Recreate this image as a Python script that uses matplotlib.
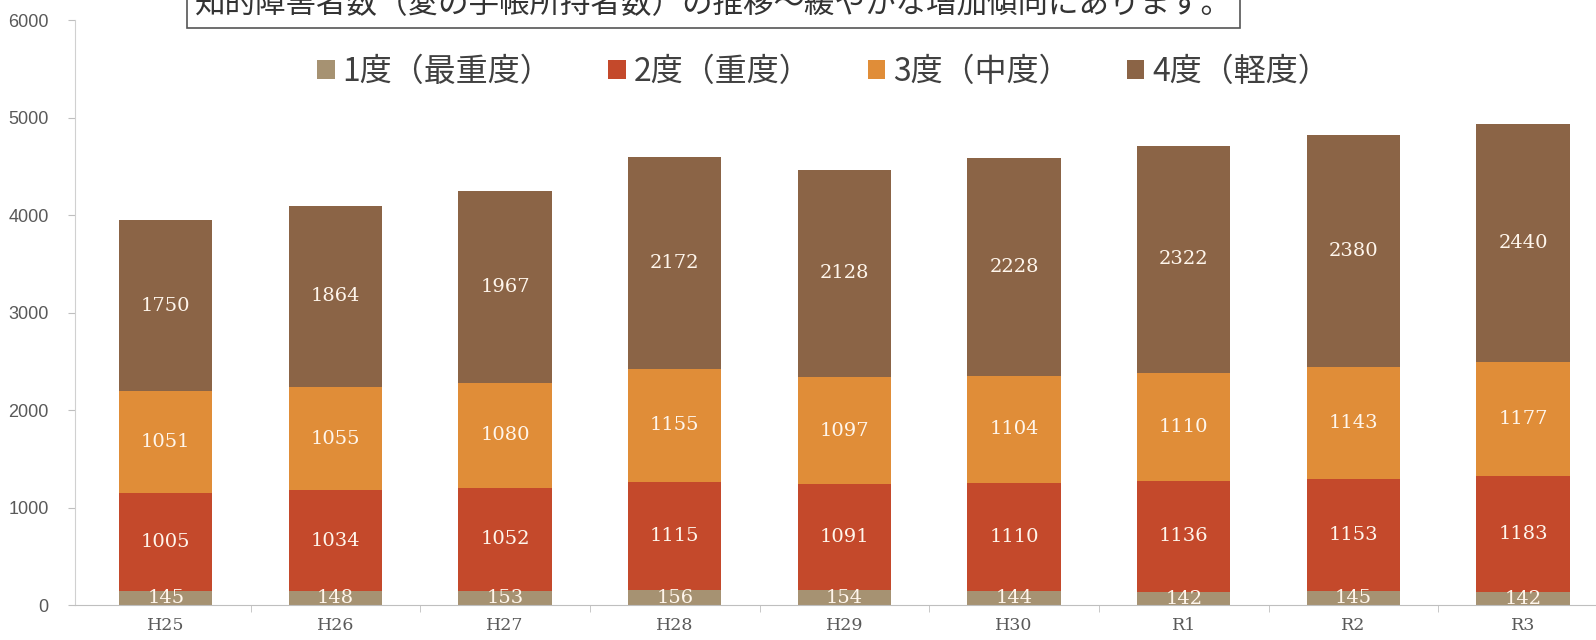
import matplotlib
matplotlib.use("Agg")
import matplotlib.pyplot as plt
from matplotlib.patches import Patch
import numpy as np

plt.rcParams['font.family'] = ['Noto Sans CJK JP', 'DejaVu Sans']

# data
years = ['H25', 'H26', 'H27', 'H28', 'H29', 'H30', 'R1', 'R2', 'R3']
grade1 = [145, 148, 153, 156, 154, 144, 142, 145, 142]
grade2 = [1005, 1034, 1052, 1115, 1091, 1110, 1136, 1153, 1183]
grade3 = [1051, 1055, 1080, 1155, 1097, 1104, 1110, 1143, 1177]
grade4 = [1750, 1864, 1967, 2172, 2128, 2228, 2322, 2380, 2440]
series_names = ['1度（最重度）', '2度（重度）', '3度（中度）', '4度（軽度）']
colors = ['#A69272', '#C4492B', '#E08D38', '#8B6446']
title = '知的障害者数（愛の手帳所持者数）の推移〜緩やかな増加傾向にあります。'

fig = plt.figure(figsize=(15.96, 6.4), dpi=100)
ax = fig.add_axes([0.047, 0.054, 0.953, 0.914])

x = np.arange(len(years))
bottom = np.zeros(len(years))
for vals, col in zip([grade1, grade2, grade3, grade4], colors):
    vals = np.array(vals)
    ax.bar(x, vals, 0.55, bottom=bottom, color=col, zorder=2)
    for xi, b, v in zip(x, bottom, vals):
        ax.text(xi, b + v / 2, str(v), ha='center', va='center',
                family='DejaVu Serif', fontsize=14, color='#FFF6EC', zorder=3)
    bottom += vals

ax.set_ylim(0, 6000)
ax.set_xlim(-0.535, 8.43)
ax.set_yticks(range(0, 6001, 1000))
ax.set_yticklabels([str(v) for v in range(0, 6001, 1000)],
                   family='Liberation Sans', fontsize=13, color='#595959')
ax.set_xticks(x)
ax.set_xticklabels(years, family='DejaVu Serif', fontsize=12.5, color='#595959')
ax.set_xticks(np.arange(len(years) - 1) + 0.5, minor=True)
ax.tick_params(axis='x', which='major', length=0, pad=8)
ax.tick_params(axis='x', which='minor', length=5, color='#BFBFBF', direction='out')
ax.tick_params(axis='y', length=5, color='#BFBFBF', pad=14)

for s in ['top', 'right']:
    ax.spines[s].set_visible(False)
ax.spines['left'].set_color('#D0D0D0')
ax.spines['bottom'].set_color('#BFBFBF')

handles = [Patch(facecolor=c) for c in colors]
fig.legend(handles, series_names, loc='center', bbox_to_anchor=(0.516, 0.888),
           ncol=4, frameon=False, fontsize=23, handlelength=0.55,
           handleheight=0.55, handletextpad=0.25, columnspacing=1.75,
           labelcolor='#404040')

fig.text(0.447, 1 - 20.5 / 640, title, ha='center', va='bottom', fontsize=22,
         color='#333333',
         bbox=dict(boxstyle='square,pad=0.25', facecolor='white',
                   edgecolor='#555555', linewidth=1.2))

fig.savefig('out.png', dpi=100)
